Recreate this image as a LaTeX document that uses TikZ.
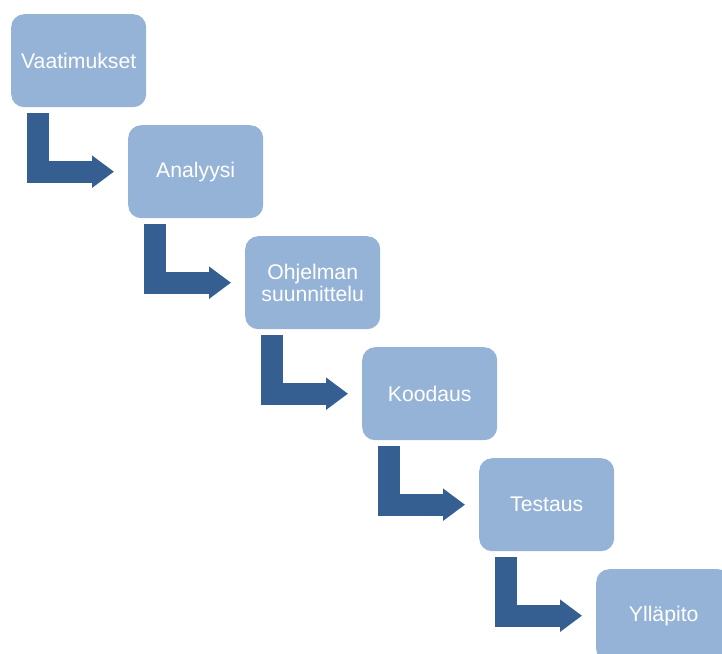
\documentclass[tikz,border=0pt]{standalone}
\usepackage{fontspec}
\setmainfont{Liberation Sans}
\usetikzlibrary{arrows.meta,calc}
\definecolor{boxblue}{HTML}{95B3D7}
\definecolor{arrowblue}{HTML}{365F91}
\begin{document}
\begin{tikzpicture}[x=1pt,y=-1pt,
  stage/.style={fill=boxblue, rounded corners=13pt, minimum width=135pt, minimum height=93pt,
    text=white, font=\fontsize{21.2}{22.5}\selectfont, align=center, inner sep=0pt, anchor=north west},
  flow/.style={draw=arrowblue, line width=22pt, line join=miter,
    -{Triangle[length=22pt,width=31pt]}, shorten >=14pt}]
\useasboundingbox (0,0) rectangle (722,653);
\clip (0,0) rectangle (722,653);
\node[stage] (b1) at (11,14) {Vaatimukset};
\node[stage] (b2) at (128,125) {Analyysi};
\node[stage] (b3) at (245,236) {Ohjelman\\suunnittelu};
\node[stage] (b4) at (362,347) {Koodaus};
\node[stage] (b5) at (479,458) {Testaus};
\node[stage] (b6) at (596,569) {Ylläpito};
\draw[flow] ($(b1.south west)+(27,6)$) |- (b2.west);
\draw[flow] ($(b2.south west)+(27,6)$) |- (b3.west);
\draw[flow] ($(b3.south west)+(27,6)$) |- (b4.west);
\draw[flow] ($(b4.south west)+(27,6)$) |- (b5.west);
\draw[flow] ($(b5.south west)+(27,6)$) |- (b6.west);
\end{tikzpicture}
\end{document}
